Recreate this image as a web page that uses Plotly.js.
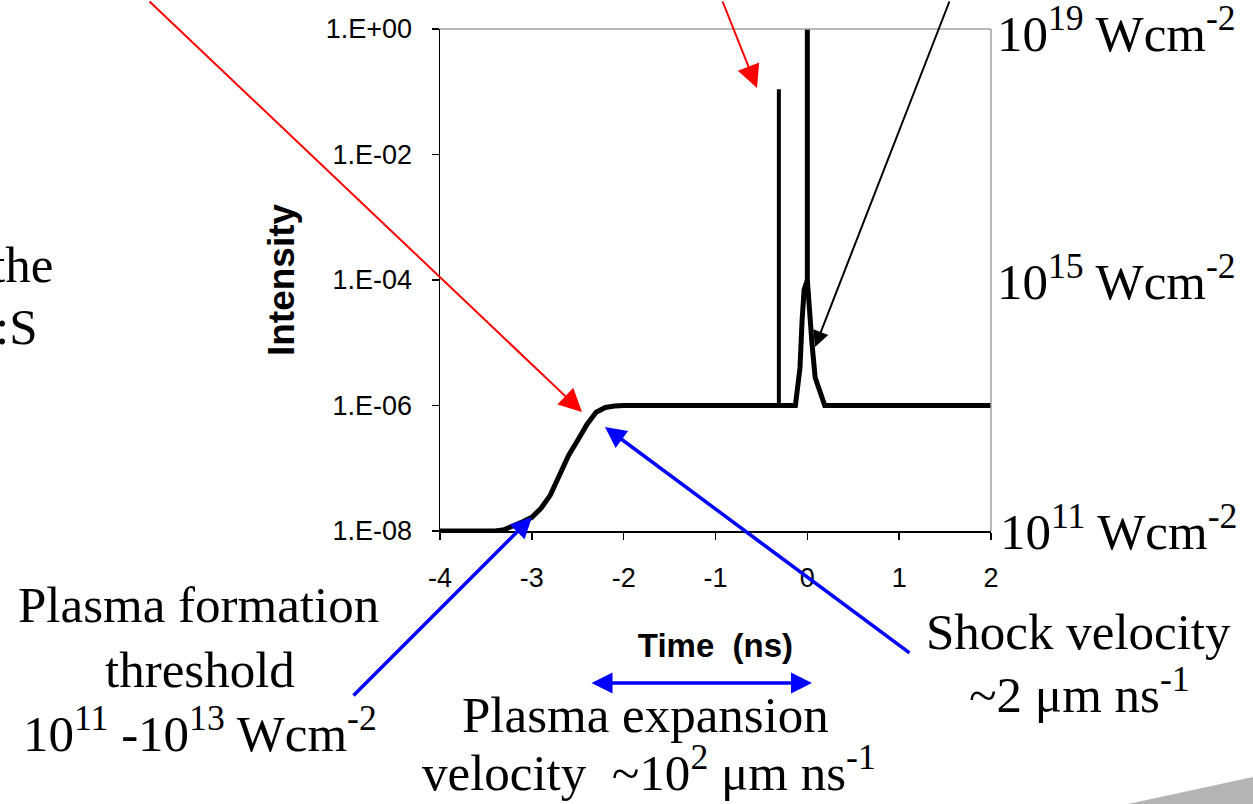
<!DOCTYPE html>
<html>
<head>
<meta charset="utf-8">
<script src="https://cdn.plot.ly/plotly-3.0.1.min.js"></script>
<style>
  html, body { margin: 0; padding: 0; background: #ffffff; }
  #chart { width: 1253px; height: 804px; }
</style>
</head>
<body>
<div id="chart"></div>
<script>
// ---- data ----
const timeNs = [-4, -3.4, -3.3, -3.2, -3.1, -3.0, -2.9, -2.8, -2.7, -2.6, -2.5, -2.4, -2.3, -2.2, -2.1, -2.0,
                -0.13, -0.08, -0.057, -0.035, 0, 0, 0, 0.05, 0.085, 0.19, 2.0];
const intensity = [1e-8, 1e-8, 1.05e-8, 1.2e-8, 1.4e-8, 1.65e-8, 2.3e-8, 3.7e-8, 7.5e-8, 1.6e-7, 2.8e-7, 5.0e-7, 7.8e-7, 9.3e-7, 9.8e-7, 1e-6,
                   1e-6, 4e-6, 2.3e-5, 7e-5, 1e-4, 1, 1e-4, 1e-5, 2.8e-6, 1e-6, 1e-6];
const prepulseTime = [-0.31, -0.31];
const prepulseIntensity = [1e-6, 0.11];

const xTickVals = [-4, -3, -2, -1, 0, 1, 2];
const xTickText = ['-4', '-3', '-2', '-1', '0', '1', '2'];
const yTickVals = [1, 1e-2, 1e-4, 1e-6, 1e-8];
const yTickText = ['1.E+00', '1.E-02', '1.E-04', '1.E-06', '1.E-08'];

// ---- layout helpers (pixel -> paper) ----
const W = 1253, H = 804;
const L = 440, R = 991, T = 29, B = 531;
const px = x => (x - L) / (R - L);
const py = y => (B - y) / (B - T);

const serif = {family: '"Liberation Serif", "Times New Roman", serif', size: 51, color: '#000'};

function label(text, x, y, xanchor) {
  return {text: text, xref: 'paper', yref: 'paper', x: px(x), y: py(y),
          xanchor: xanchor || 'center', yanchor: 'middle', showarrow: false, font: serif};
}
function arrow(tipX, tipY, tailX, tailY, color, width, size) {
  return {text: '', xref: 'paper', yref: 'paper', x: px(tipX), y: py(tipY),
          ax: tailX - tipX, ay: tailY - tipY, showarrow: true,
          arrowhead: 2, arrowsize: size, arrowwidth: width, arrowcolor: color, standoff: 0};
}

const annotations = [
  label('10<sup>19</sup> Wcm<sup>-2</sup>', 995, 30, 'left'),
  label('10<sup>15</sup> Wcm<sup>-2</sup>', 995, 278, 'left'),
  label('10<sup>11</sup> Wcm<sup>-2</sup>', 998, 528, 'left'),
  label('the', 55, 265, 'right'),
  label(':S', 40, 327, 'right'),
  label('Plasma formation', 198, 605),
  label('threshold', 200, 670),
  label('10<sup>11</sup> -10<sup>13</sup> Wcm<sup>-2</sup>', 200, 730),
  label('Shock velocity', 1078, 632),
  label('~2 μm ns<sup>-1</sup>', 1079, 691),
  label('Plasma expansion', 645, 715),
  label('velocity\u00a0 ~10<sup>2</sup> μm ns<sup>-1</sup>', 649, 769),
  arrow(582, 412, 148, 0, '#ff0000', 2, 2.3),
  arrow(757, 88, 722, 0, '#ff0000', 2, 2.3),
  arrow(815, 347, 950, 0, '#000000', 2, 1.6),
  arrow(532, 517, 352, 697, '#0000ff', 3.5, 1.2),
  arrow(605, 427, 911, 654, '#0000ff', 3.5, 1.2),
  Object.assign(arrow(812, 683, 590, 683, '#0000ff', 3.5, 1.2),
                {arrowside: 'end+start', startarrowhead: 2, startarrowsize: 1.2, startstandoff: 0})
];

const shapes = [
  {type: 'line', xref: 'paper', yref: 'paper', x0: 0, x1: 1, y0: 1, y1: 1, line: {color: '#a0a0a0', width: 1.5}},
  {type: 'line', xref: 'paper', yref: 'paper', x0: 1, x1: 1, y0: 0, y1: 1, line: {color: '#a0a0a0', width: 1.5}},
  {type: 'path', xref: 'paper', yref: 'paper',
   path: 'M ' + px(1128) + ' ' + py(804) + ' L ' + px(1253) + ' ' + py(777) + ' L ' + px(1253) + ' ' + py(804) + ' Z',
   fillcolor: '#b4b4b4', line: {width: 0}}
];

const traces = [
  {x: timeNs, y: intensity, type: 'scatter', mode: 'lines',
   line: {color: '#000000', width: 5}, hoverinfo: 'x+y', showlegend: false},
  {x: prepulseTime, y: prepulseIntensity, type: 'scatter', mode: 'lines',
   line: {color: '#000000', width: 4}, hoverinfo: 'x+y', showlegend: false}
];

const layout = {
  width: W, height: H,
  margin: {l: L, r: W - R, t: T, b: H - B, pad: 0},
  paper_bgcolor: '#ffffff', plot_bgcolor: '#ffffff',
  showlegend: false,
  xaxis: {
    range: [-4, 2], tickvals: xTickVals, ticktext: xTickText,
    ticks: 'outside', ticklen: 7, tickwidth: 1.5, tickcolor: '#000',
    showline: true, linecolor: '#000', linewidth: 1.5, mirror: false,
    showgrid: false, zeroline: false, automargin: false,
    tickfont: {family: 'Arial, "Liberation Sans", sans-serif', size: 27, color: '#000'},
    ticklabelstandoff: 15,
    title: {text: '<b>Time\u00a0 (ns)</b>', standoff: 42,
            font: {family: 'Arial, "Liberation Sans", sans-serif', size: 33, color: '#000'}}
  },
  yaxis: {
    type: 'log', range: [-8, 0], tickvals: yTickVals, ticktext: yTickText,
    ticks: 'outside', ticklen: 7, tickwidth: 1.5, tickcolor: '#000',
    showline: true, linecolor: '#000', linewidth: 1.5, mirror: false,
    showgrid: false, zeroline: false, automargin: false,
    tickfont: {family: 'Arial, "Liberation Sans", sans-serif', size: 27, color: '#000'},
    ticklabelstandoff: 14,
    title: {text: '<b>Intensity</b>', standoff: 20,
            font: {family: 'Arial, "Liberation Sans", sans-serif', size: 37, color: '#000'}}
  },
  annotations: annotations,
  shapes: shapes
};

Plotly.newPlot('chart', traces, layout, {staticPlot: true, displayModeBar: false});
</script>
</body>
</html>
